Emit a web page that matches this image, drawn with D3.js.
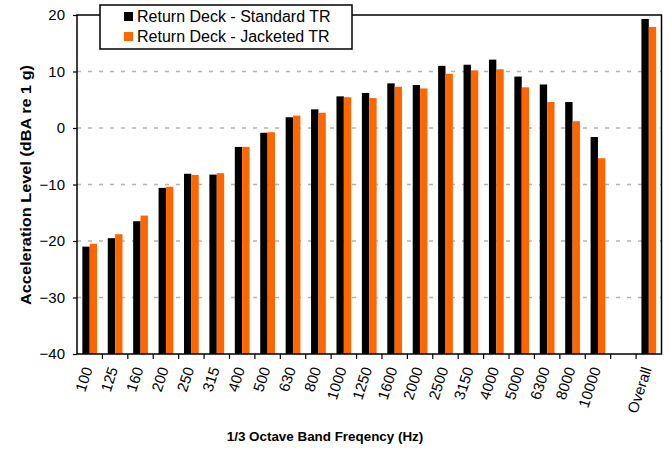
<!DOCTYPE html>
<html>
<head>
<meta charset="utf-8">
<script src="https://cdn.jsdelivr.net/npm/d3@7/dist/d3.min.js"></script>
<style>
  html, body { margin: 0; padding: 0; background: #fff; }
  svg { display: block; font-family: Arial, "Liberation Sans", sans-serif; }
</style>
</head>
<body>
<svg id="chart" width="671" height="450"></svg>
<script>
// 1/3 octave band centre frequencies (blank slot separates the overall level)
const bands = ["100","125","160","200","250","315","400","500","630","800","1000",
  "1250","1600","2000","2500","3150","4000","5000","6300","8000","10000","","Overall"];

// Acceleration level, dBA re 1 g
const standardTR = [-21.0,-19.5,-16.5,-10.6,-8.1,-8.25,-3.35,-0.85,1.9,3.3,5.6,
  6.2,7.9,7.6,11.0,11.2,12.1,9.1,7.7,4.6,-1.6,null,19.3];
const jacketedTR = [-20.5,-18.8,-15.5,-10.4,-8.3,-8.0,-3.35,-0.75,2.2,2.7,5.45,
  5.3,7.3,7.0,9.6,10.2,10.4,7.2,4.6,1.2,-5.35,null,17.9];

const yTicks = [-40,-30,-20,-10,0,10,20];
const seriesNames = ["Return Deck - Standard TR", "Return Deck - Jacketed TR"];
const seriesColors = ["#000000", "#ff6600"];

const svg = d3.select("#chart");
const plotLeft = 77, plotRight = 661.5, plotTop = 15, plotBottom = 354;

const x = d3.scaleBand().domain(bands.map((d, i) => i)).range([plotLeft, plotRight]).padding(0);
const y = d3.scaleLinear().domain([-40, 20]).range([plotBottom, plotTop]);

// dashed gridlines
svg.append("g").selectAll("line")
  .data(yTicks.filter(v => v > -40 && v < 20))
  .join("line")
  .attr("x1", plotLeft).attr("x2", plotRight)
  .attr("y1", d => y(d)).attr("y2", d => y(d))
  .attr("stroke", "#b4b4b4").attr("stroke-width", 1.5)
  .attr("stroke-dasharray", "4,7");

// bars, rising from the bottom of the axis
const bw = x.bandwidth() * 0.29;
const series = [standardTR, jacketedTR];
series.forEach((vals, s) => {
  svg.append("g").selectAll("rect")
    .data(vals.map((v, i) => ({ v, i })).filter(d => d.v !== null))
    .join("rect")
    .attr("x", d => x(d.i) + x.bandwidth() / 2 - bw + s * bw)
    .attr("width", bw)
    .attr("y", d => y(d.v))
    .attr("height", d => y(-40) - y(d.v))
    .attr("fill", seriesColors[s]);
});

// y axis
const yAxis = d3.axisLeft(y).tickValues(yTicks).tickSize(4).tickPadding(8);
const gy = svg.append("g").attr("transform", `translate(${plotLeft},0)`).call(yAxis);
gy.select(".domain").remove();
gy.selectAll(".tick line").attr("stroke", "#000").attr("stroke-width", 1.2);
gy.selectAll(".tick text").attr("font-size", 15).attr("fill", "#000")
  .attr("font-family", 'Arial, "Liberation Sans", sans-serif');

// x tick marks at band boundaries
svg.append("g").selectAll("line")
  .data(d3.range(1, bands.length))
  .join("line")
  .attr("x1", i => x(i)).attr("x2", i => x(i))
  .attr("y1", plotBottom).attr("y2", plotBottom + 5)
  .attr("stroke", "#000").attr("stroke-width", 1.2);

// rotated band labels
svg.append("g").selectAll("text")
  .data(bands.map((b, i) => ({ b, i })).filter(d => d.b !== ""))
  .join("text")
  .attr("transform", d => `translate(${x(d.i) + x.bandwidth() / 2 + 3},369) rotate(-72)`)
  .attr("text-anchor", "end")
  .attr("font-size", 15)
  .text(d => d.b);

// plot frame
svg.append("rect")
  .attr("x", plotLeft).attr("y", plotTop)
  .attr("width", plotRight - plotLeft).attr("height", plotBottom - plotTop)
  .attr("fill", "none").attr("stroke", "#000").attr("stroke-width", 1.5);

// axis titles
svg.append("text")
  .attr("x", 325).attr("y", 441)
  .attr("text-anchor", "middle").attr("font-weight", "bold").attr("font-size", 13.4)
  .text("1/3 Octave Band Freqency (Hz)");

svg.append("text")
  .attr("transform", "translate(31,185) rotate(-90)")
  .attr("text-anchor", "middle").attr("font-weight", "bold").attr("font-size", 14)
  .attr("textLength", 240).attr("lengthAdjust", "spacingAndGlyphs")
  .text("Acceleration Level (dBA re 1 g)");

// legend
const lg = svg.append("g");
lg.append("rect")
  .attr("x", 100).attr("y", 5).attr("width", 252).attr("height", 44)
  .attr("fill", "#fff").attr("stroke", "#000").attr("stroke-width", 1.5);
seriesNames.forEach((name, s) => {
  lg.append("rect")
    .attr("x", 124).attr("y", 12 + s * 20).attr("width", 9).attr("height", 9)
    .attr("fill", seriesColors[s]);
  lg.append("text")
    .attr("x", 137).attr("y", 21.5 + s * 20)
    .attr("font-size", 16)
    .text(name);
});
</script>
</body>
</html>
